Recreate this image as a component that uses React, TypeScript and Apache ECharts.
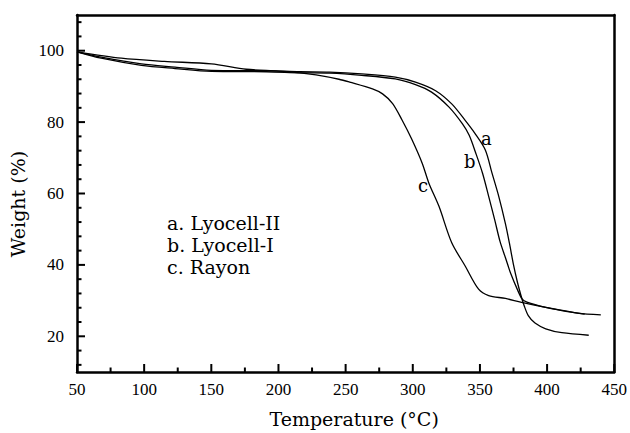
import React, { useEffect, useRef } from "react";
import * as echarts from "echarts";

// a. Lyocell-II
const lyocellIITemp = [50, 68, 98, 123, 150, 191, 216, 238, 262, 287, 302, 317, 329, 339, 346, 354, 359, 364, 369, 372, 375, 378, 380.5, 383, 386, 391, 399, 411, 431];
const lyocellIIWeight = [99.7, 98.2, 96.3, 95.4, 94.5, 94.4, 94.1, 94.0, 93.5, 92.6, 91.2, 88.8, 85.1, 80.5, 77, 72.2, 65.7, 59.2, 51.5, 46, 40, 35, 31.5, 28.5, 25.8, 23.7, 22.1, 21.0, 20.3];

// b. Lyocell-I
const lyocellITemp = [50, 68, 98, 123, 150, 191, 216, 238, 262, 287, 302, 314, 327, 337, 342, 347, 352, 356.5, 361, 365, 369, 373, 378, 381.5, 385, 399, 411, 428];
const lyocellIWeight = [99.7, 97.9, 95.9, 95.0, 94.2, 94.1, 93.8, 93.7, 93.1, 92.1, 90.5, 88.4, 84.2, 79.5, 76.3, 71.2, 65.6, 59.2, 52.6, 46.5, 42, 37.5, 33, 30.4, 29.6, 28.1, 27.2, 26.2];

// c. Rayon
const rayonTemp = [50, 83, 115, 150, 176, 200, 216, 228, 245, 253, 270, 277.5, 285, 292, 299, 307, 312, 319.5, 329, 339, 349, 356.5, 369, 381, 399, 423, 440];
const rayonWeight = [99.7, 97.9, 97.0, 96.3, 94.8, 94.3, 93.8, 93.2, 92.0, 91.2, 89.3, 87.9, 85.2, 80.6, 75.4, 68.5, 62.9, 56.4, 46.2, 39.7, 33.2, 31.4, 30.6, 29.5, 28.1, 26.5, 26.0];

const xMajorTicks = [50, 100, 150, 200, 250, 300, 350, 400, 450];
const xMinorTicks = [75, 125, 175, 225, 275, 325, 375, 425];
const yMajorTicks = [20, 40, 60, 80, 100];
const yMinorTicks = [12, 16, 24, 28, 32, 36, 44, 48, 52, 56, 64, 68, 72, 76, 84, 88, 92, 96, 104, 108];

const xName = "Temperature (°C)";
const yName = "Weight (%)";
const legendLines = ["a. Lyocell-II", "b. Lyocell-I", "c. Rayon"];
const curveLabelNames = ["a", "b", "c"];

const X_MIN = 50;
const X_MAX = 450;
const Y_MIN = 10;
const Y_MAX = 110;

const zip = (xs: number[], ys: number[]) => xs.map((x, i) => [x, ys[i]]);

export default function App() {
  const ref = useRef<HTMLDivElement>(null);
  useEffect(() => {
    document.body.style.margin = "0";
    const chart = echarts.init(ref.current!, null, { renderer: "svg" });
    const frameAxis = {
      axisLine: { show: true, lineStyle: { color: "#000", width: 2.5 } },
      axisTick: { show: false },
      axisLabel: { show: false },
      splitLine: { show: false },
    };
    const lineSeries = (name: string, xs: number[], ys: number[]) => ({
      type: "line",
      name,
      data: zip(xs, ys),
      showSymbol: false,
      smooth: 0.3,
      lineStyle: { color: "#000", width: 1.3 },
    });
    const serif = { fontFamily: "DejaVu Serif", color: "#000" };
    const labelBoxes = [
      { left: 481, top: 129 },
      { left: 464, top: 152 },
      { left: 418, top: 176 },
    ];
    chart.setOption({
      animation: false,
      backgroundColor: "#fff",
      grid: { left: 77, right: 14, top: 15, bottom: 57 },
      title: [
        {
          text: legendLines.join("\n"),
          left: 167,
          top: 212,
          padding: 0,
          textStyle: { ...serif, fontSize: 19, fontWeight: "normal", lineHeight: 22 },
        },
        ...curveLabelNames.map((n, i) => ({
          text: n,
          left: labelBoxes[i].left,
          top: labelBoxes[i].top,
          padding: 0,
          textStyle: { ...serif, fontSize: 18, fontWeight: "normal" },
        })),
      ],
      xAxis: [
        {
          type: "value",
          min: X_MIN,
          max: X_MAX,
          interval: 50,
          position: "bottom",
          axisLine: { show: true, lineStyle: { color: "#000", width: 2.5 } },
          axisTick: { show: false },
          axisLabel: { show: true, margin: 9, color: "#000", fontFamily: "Liberation Serif", fontSize: 17 },
          splitLine: { show: false },
          name: xName,
          nameLocation: "middle",
          nameGap: 37,
          nameTextStyle: { ...serif, fontSize: 19, padding: [0, 0, 0, 17] },
        },
        { type: "value", min: X_MIN, max: X_MAX, position: "top", ...frameAxis },
      ],
      yAxis: [
        {
          type: "value",
          min: Y_MIN,
          max: Y_MAX,
          position: "left",
          axisLine: { show: true, lineStyle: { color: "#000", width: 2.5 } },
          axisTick: { show: false },
          axisLabel: { show: true, customValues: yMajorTicks, margin: 13, color: "#000", fontFamily: "Liberation Serif", fontSize: 17 },
          splitLine: { show: false },
          name: yName,
          nameLocation: "middle",
          nameGap: 44,
          nameRotate: 90,
          nameTextStyle: { ...serif, fontSize: 19, padding: [0, 21, 0, 0] },
        },
        { type: "value", min: Y_MIN, max: Y_MAX, position: "right", ...frameAxis },
      ],
      series: [
        lineSeries("Lyocell-II", lyocellIITemp, lyocellIIWeight),
        lineSeries("Lyocell-I", lyocellITemp, lyocellIWeight),
        lineSeries("Rayon", rayonTemp, rayonWeight),
      ],
    });

    // Tick marks placed through the chart's own scales
    const toPx = (p: number[]) =>
      chart.convertToPixel({ xAxisIndex: 0, yAxisIndex: 0 }, p) as number[];
    const tickLine = (x1: number, y1: number, x2: number, y2: number) => ({
      type: "line",
      silent: true,
      z: 100,
      shape: { x1, y1, x2, y2 },
      style: { stroke: "#000", lineWidth: 2 },
    });
    const ticks: any[] = [];
    xMajorTicks.forEach((v) => {
      const p = toPx([v, Y_MIN]);
      ticks.push(tickLine(p[0], p[1], p[0], p[1] - 8));
    });
    xMinorTicks.forEach((v) => {
      const p = toPx([v, Y_MIN]);
      ticks.push(tickLine(p[0], p[1], p[0], p[1] - 4.5));
    });
    yMajorTicks.forEach((v) => {
      const p = toPx([X_MIN, v]);
      ticks.push(tickLine(p[0], p[1], p[0] + 8, p[1]));
    });
    yMinorTicks.forEach((v) => {
      const p = toPx([X_MIN, v]);
      ticks.push(tickLine(p[0], p[1], p[0] + 4.5, p[1]));
    });
    chart.setOption({ graphic: ticks });

    return () => chart.dispose();
  }, []);
  return <div ref={ref} style={{ width: 630, height: 433 }} />;
}
